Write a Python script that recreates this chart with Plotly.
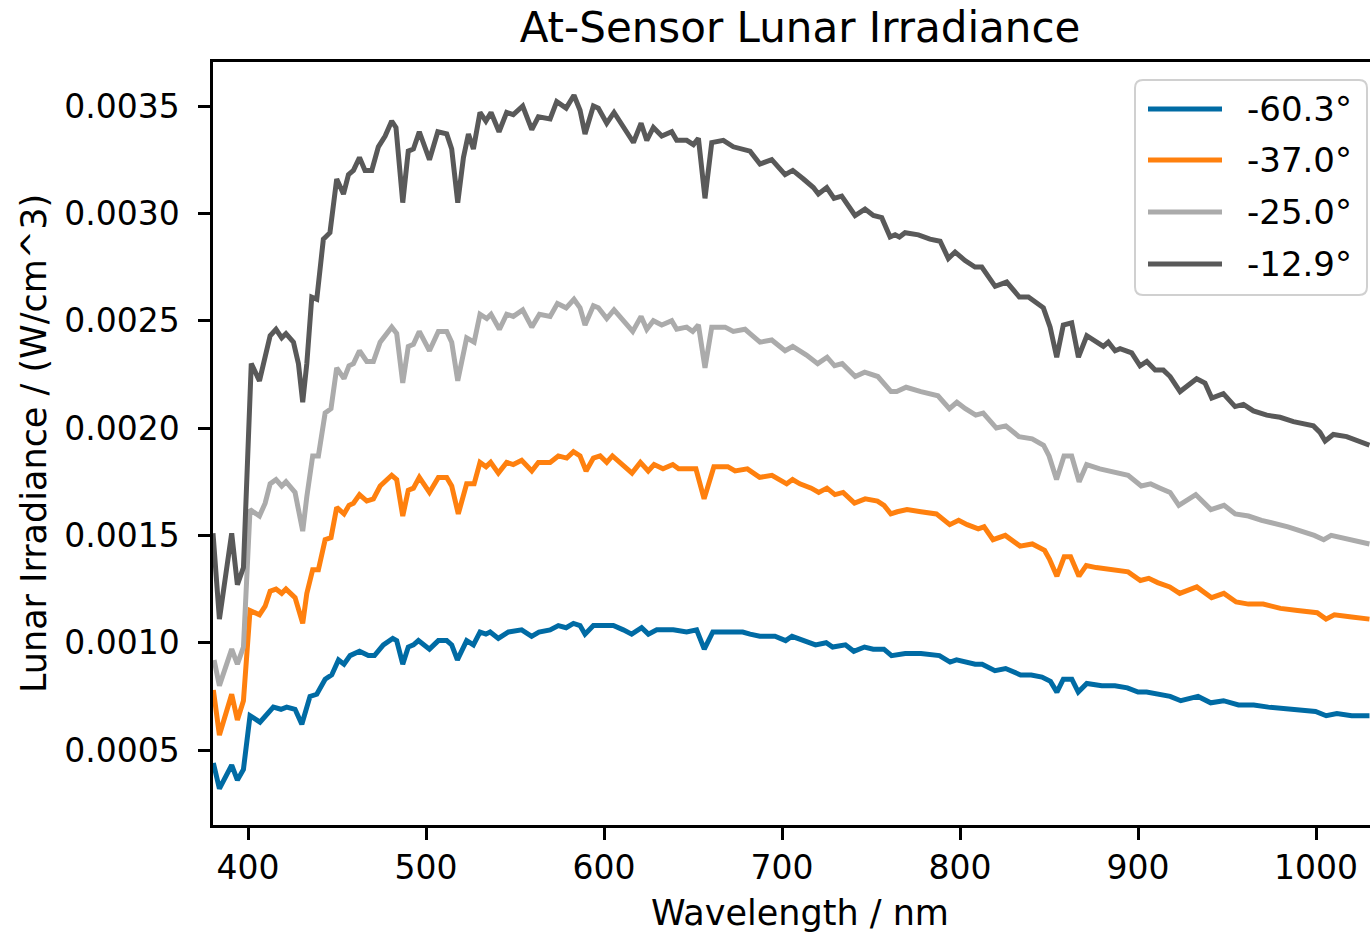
import plotly.graph_objects as go

# ---------------- data ----------------
wl_m603 = [380.5, 383.9, 390.8, 394.0, 397.4, 401.1, 406.7, 409.6, 414.2, 418.5, 421.7, 426.4, 430.2, 434.8, 438.6,
           443.3, 447.0, 450.8, 453.9, 457.3, 462.6, 467.6, 471.0, 476.0, 481.3, 483.5, 486.9, 490.0, 492.9, 495.7,
           501.9, 506.9, 511.6, 514.4, 517.6, 522.8, 526.6, 530.3, 533.6, 536.0, 540.6, 546.3, 553.7, 559.3, 563.4,
           569.7, 574.3, 578.7, 582.8, 586.5, 589.3, 594.0, 600.0, 605.2, 610.8, 615.5, 621.1, 624.9, 629.6, 638.9,
           646.4, 652.0, 656.3, 661.1, 668.3, 677.9, 682.0, 687.5, 696.0, 702.0, 705.6, 712.0, 718.8, 724.8, 728.4,
           735.6, 740.3, 746.3, 751.2, 757.2, 761.5, 769.2, 778.0, 788.4, 794.4, 798.0, 803.0, 808.5, 812.4, 819.6,
           825.6, 834.0, 840.0, 846.0, 850.8, 854.4, 858.0, 862.8, 866.4, 871.2, 879.6, 887.0, 894.0, 900.0, 904.8,
           913.2, 918.0, 924.0, 933.7, 940.8, 948.0, 956.4, 965.0, 973.2, 990.0, 999.7, 1005.7, 1011.7, 1020.0, 1030.0]
irr_m603 = [0.00044, 0.00032, 0.00043, 0.00036, 0.00041, 0.00066, 0.00063, 0.00066, 0.00070, 0.00069, 0.00070, 0.00069, 0.00062, 0.00075, 0.00076,
            0.00083, 0.00085, 0.00092, 0.00090, 0.00094, 0.00096, 0.00094, 0.00094, 0.00099, 0.00102, 0.00101, 0.00090, 0.00098, 0.00099, 0.00101,
            0.00097, 0.00101, 0.00101, 0.00099, 0.00092, 0.00101, 0.00099, 0.00105, 0.00104, 0.00105, 0.00102, 0.00105, 0.00106, 0.00103, 0.00105,
            0.00106, 0.00108, 0.00107, 0.00109, 0.00108, 0.00104, 0.00108, 0.00108, 0.00108, 0.00106, 0.00104, 0.00107, 0.00104, 0.00106, 0.00106,
            0.00105, 0.00106, 0.00097, 0.00105, 0.00105, 0.00105, 0.00104, 0.00103, 0.00103, 0.00101, 0.00103, 0.00101, 0.00099, 0.00100, 0.00098,
            0.00099, 0.00096, 0.00098, 0.00097, 0.00097, 0.00094, 0.00095, 0.00095, 0.00094, 0.00091, 0.00092, 0.00091, 0.00090, 0.00090, 0.00087,
            0.00088, 0.00085, 0.00085, 0.00084, 0.00082, 0.00077, 0.00083, 0.00083, 0.00077, 0.00081, 0.00080, 0.00080, 0.00079, 0.00077, 0.00077,
            0.00076, 0.00075, 0.00073, 0.00075, 0.00072, 0.00073, 0.00071, 0.00071, 0.00070, 0.00069, 0.00068, 0.00066, 0.00067, 0.00066, 0.00066]

wl_m370 = [380.5, 383.9, 390.8, 394.0, 397.4, 401.1, 406.4, 409.6, 412.4, 415.7, 418.9, 421.3, 426.4, 430.7, 433.0,
           436.3, 439.5, 443.3, 446.6, 449.8, 453.9, 456.7, 459.2, 462.6, 466.7, 470.4, 474.2, 477.0, 480.7, 483.5,
           486.9, 490.0, 492.9, 496.2, 501.9, 506.9, 511.6, 514.4, 518.1, 522.8, 527.0, 530.3, 533.7, 536.3, 540.6,
           545.3, 549.0, 553.7, 559.4, 563.1, 569.7, 574.3, 579.0, 582.8, 586.5, 589.9, 594.0, 597.8, 601.5, 604.7,
           610.0, 615.7, 620.4, 624.8, 628.1, 633.1, 638.6, 641.9, 646.4, 651.6, 656.2, 661.7, 669.5, 673.6, 680.5,
           687.4, 694.3, 702.6, 705.9, 710.0, 716.4, 720.6, 725.2, 729.7, 734.3, 740.7, 746.7, 753.6, 757.3, 761.1,
           764.7, 770.2, 778.0, 786.7, 794.2, 799.2, 804.0, 810.2, 813.5, 818.5, 825.4, 833.7, 840.6, 847.5, 850.2,
           854.4, 858.5, 862.1, 866.8, 870.9, 876.5, 887.5, 894.4, 901.3, 906.0, 911.0, 917.8, 923.4, 933.0, 941.3,
           948.2, 955.1, 962.0, 970.3, 980.0, 989.6, 1000.6, 1005.6, 1010.3, 1020.0, 1030.0]
irr_m370 = [0.00078, 0.00057, 0.00076, 0.00064, 0.00073, 0.00115, 0.00113, 0.00117, 0.00124, 0.00125, 0.00123, 0.00125, 0.00121, 0.00109, 0.00123,
            0.00134, 0.00134, 0.00148, 0.00149, 0.00163, 0.00160, 0.00164, 0.00165, 0.00169, 0.00166, 0.00167, 0.00173, 0.00175, 0.00178, 0.00176,
            0.00159, 0.00171, 0.00172, 0.00177, 0.00170, 0.00177, 0.00177, 0.00173, 0.00160, 0.00174, 0.00174, 0.00184, 0.00182, 0.00184, 0.00179,
            0.00184, 0.00183, 0.00185, 0.00180, 0.00184, 0.00184, 0.00187, 0.00186, 0.00189, 0.00187, 0.00180, 0.00186, 0.00187, 0.00184, 0.00187,
            0.00183, 0.00179, 0.00184, 0.00180, 0.00183, 0.00181, 0.00183, 0.00181, 0.00181, 0.00181, 0.00167, 0.00182, 0.00182, 0.00180, 0.00181,
            0.00177, 0.00178, 0.00174, 0.00176, 0.00174, 0.00172, 0.00170, 0.00172, 0.00169, 0.00170, 0.00165, 0.00167, 0.00166, 0.00164, 0.00160,
            0.00161, 0.00162, 0.00161, 0.00160, 0.00155, 0.00157, 0.00155, 0.00153, 0.00154, 0.00148, 0.00150, 0.00145, 0.00146, 0.00143, 0.00139,
            0.00131, 0.00140, 0.00140, 0.00131, 0.00136, 0.00135, 0.00134, 0.00133, 0.00129, 0.00130, 0.00128, 0.00126, 0.00123, 0.00126, 0.00121,
            0.00123, 0.00119, 0.00118, 0.00118, 0.00116, 0.00115, 0.00114, 0.00111, 0.00113, 0.00112, 0.00111]

wl_m250 = [380.9, 383.9, 390.8, 394.0, 397.4, 401.1, 406.4, 409.6, 412.4, 415.7, 418.9, 421.3, 426.4, 430.7, 433.0,
           436.3, 439.5, 443.3, 446.6, 449.8, 453.9, 456.7, 459.2, 462.6, 466.7, 470.4, 474.2, 477.0, 480.7, 483.5,
           486.9, 490.0, 492.9, 496.2, 501.9, 506.9, 511.6, 514.4, 517.8, 522.8, 527.0, 530.3, 534.1, 536.5, 541.2,
           545.3, 549.0, 554.3, 559.4, 563.7, 569.7, 573.8, 578.7, 583.1, 586.5, 589.3, 594.0, 596.8, 601.5, 605.6,
           610.8, 616.1, 620.8, 624.0, 627.7, 632.4, 638.0, 640.8, 646.4, 649.8, 653.0, 656.7, 660.5, 668.0, 672.6,
           679.2, 682.0, 687.6, 694.2, 701.7, 706.0, 713.7, 720.0, 725.3, 729.5, 733.8, 741.1, 746.4, 753.8, 757.0,
           761.2, 764.4, 769.7, 778.0, 787.6, 794.0, 798.2, 803.0, 808.8, 813.0, 820.4, 825.7, 833.1, 840.5, 846.9,
           850.0, 854.2, 858.4, 862.7, 866.9, 871.1, 878.5, 884.9, 894.4, 901.8, 907.1, 912.4, 918.0, 922.9, 932.4,
           940.9, 948.3, 954.6, 962.0, 969.4, 984.2, 999.0, 1004.3, 1008.5, 1018.0, 1030.0]
irr_m250 = [0.00092, 0.00080, 0.00097, 0.00090, 0.00098, 0.00162, 0.00159, 0.00165, 0.00174, 0.00176, 0.00173, 0.00175, 0.00170, 0.00152, 0.00168,
            0.00187, 0.00187, 0.00207, 0.00209, 0.00228, 0.00223, 0.00229, 0.00230, 0.00236, 0.00231, 0.00231, 0.00240, 0.00243, 0.00247, 0.00244,
            0.00221, 0.00238, 0.00239, 0.00245, 0.00236, 0.00245, 0.00245, 0.00240, 0.00222, 0.00242, 0.00240, 0.00253, 0.00251, 0.00253, 0.00246,
            0.00253, 0.00252, 0.00255, 0.00247, 0.00253, 0.00252, 0.00258, 0.00256, 0.00260, 0.00256, 0.00248, 0.00257, 0.00256, 0.00251, 0.00255,
            0.00250, 0.00245, 0.00252, 0.00246, 0.00250, 0.00248, 0.00250, 0.00246, 0.00247, 0.00245, 0.00248, 0.00228, 0.00247, 0.00247, 0.00245,
            0.00246, 0.00244, 0.00240, 0.00241, 0.00236, 0.00238, 0.00234, 0.00230, 0.00233, 0.00229, 0.00230, 0.00224, 0.00226, 0.00224, 0.00221,
            0.00217, 0.00217, 0.00219, 0.00217, 0.00215, 0.00209, 0.00212, 0.00209, 0.00206, 0.00207, 0.00200, 0.00201, 0.00196, 0.00195, 0.00192,
            0.00187, 0.00176, 0.00187, 0.00187, 0.00175, 0.00183, 0.00181, 0.00180, 0.00178, 0.00173, 0.00174, 0.00172, 0.00170, 0.00164, 0.00169,
            0.00162, 0.00164, 0.00160, 0.00159, 0.00157, 0.00154, 0.00150, 0.00148, 0.00150, 0.00148, 0.00146]

wl_m129 = [380.3, 383.9, 390.8, 394.0, 397.4, 401.8, 406.4, 409.6, 412.4, 415.7, 418.9, 421.3, 425.5, 428.3, 430.7,
           433.0, 435.8, 438.6, 442.3, 446.0, 449.8, 453.6, 456.4, 459.2, 462.6, 465.7, 469.5, 473.2, 477.0, 480.7,
           483.1, 486.9, 490.0, 492.9, 496.2, 501.9, 506.6, 511.6, 514.4, 517.8, 521.0, 523.8, 526.6, 530.3, 533.6,
           536.5, 541.0, 545.3, 549.0, 554.3, 559.4, 563.1, 569.7, 573.4, 578.7, 583.1, 586.5, 589.3, 594.0, 596.8,
           601.5, 605.6, 610.8, 616.5, 620.8, 624.0, 627.7, 632.4, 638.0, 640.8, 646.4, 650.2, 653.0, 656.7, 660.5,
           667.0, 672.6, 679.2, 682.0, 687.6, 694.2, 701.7, 706.0, 712.0, 717.6, 720.4, 725.1, 729.2, 733.5, 741.0,
           746.6, 751.3, 756.0, 760.7, 763.5, 765.9, 769.1, 776.6, 783.1, 788.8, 793.4, 797.2, 802.8, 808.4, 812.2,
           819.7, 826.2, 833.3, 838.4, 846.8, 850.6, 854.3, 858.0, 862.7, 866.5, 871.2, 876.8, 880.5, 883.3, 887.1,
           889.9, 896.4, 901.1, 904.9, 909.6, 914.2, 918.0, 923.6, 932.9, 937.6, 941.4, 947.9, 954.5, 959.2, 964.8,
           972.3, 979.8, 987.3, 998.5, 1002.2, 1005.1, 1009.7, 1017.2, 1022.9, 1030.0]
irr_m129 = [0.00151, 0.00111, 0.00151, 0.00127, 0.00135, 0.00230, 0.00222, 0.00232, 0.00243, 0.00246, 0.00242, 0.00244, 0.00240, 0.00230, 0.00212,
            0.00230, 0.00261, 0.00260, 0.00288, 0.00291, 0.00316, 0.00309, 0.00318, 0.00320, 0.00326, 0.00320, 0.00320, 0.00331, 0.00336, 0.00343,
            0.00340, 0.00305, 0.00329, 0.00330, 0.00338, 0.00325, 0.00338, 0.00337, 0.00330, 0.00305, 0.00326, 0.00337, 0.00330, 0.00347, 0.00343,
            0.00347, 0.00338, 0.00347, 0.00346, 0.00350, 0.00339, 0.00345, 0.00344, 0.00352, 0.00349, 0.00355, 0.00348, 0.00337, 0.00350, 0.00349,
            0.00342, 0.00347, 0.00340, 0.00333, 0.00342, 0.00334, 0.00340, 0.00336, 0.00338, 0.00334, 0.00334, 0.00332, 0.00335, 0.00307, 0.00333,
            0.00334, 0.00331, 0.00330, 0.00329, 0.00323, 0.00325, 0.00318, 0.00320, 0.00316, 0.00312, 0.00309, 0.00312, 0.00307, 0.00308, 0.00299,
            0.00302, 0.00299, 0.00298, 0.00289, 0.00290, 0.00289, 0.00291, 0.00290, 0.00288, 0.00287, 0.00279, 0.00282, 0.00278, 0.00275, 0.00275,
            0.00266, 0.00268, 0.00261, 0.00261, 0.00256, 0.00247, 0.00233, 0.00248, 0.00249, 0.00233, 0.00243, 0.00240, 0.00238, 0.00240, 0.00236,
            0.00237, 0.00235, 0.00229, 0.00231, 0.00227, 0.00227, 0.00224, 0.00217, 0.00223, 0.00221, 0.00214, 0.00216, 0.00210, 0.00211, 0.00208,
            0.00206, 0.00205, 0.00203, 0.00201, 0.00198, 0.00194, 0.00197, 0.00196, 0.00194, 0.00192]

series_names = ["-60.3°", "-37.0°", "-25.0°", "-12.9°"]
series_colors = ["#006BA4", "#FF800E", "#ABABAB", "#595959"]
x_ticks = [400, 500, 600, 700, 800, 900, 1000]
y_ticks = [0.0005, 0.0010, 0.0015, 0.0020, 0.0025, 0.0030, 0.0035]
x_label = "Wavelength / nm"
y_label = "Lunar Irradiance / (W/cm^3)"
title_text = "At-Sensor Lunar Irradiance"

# ---------------- figure ----------------
FONT = "DejaVu Sans"
W, H = 1370, 934
ML, MR, MT, MB = 213, 0, 62, 109
PW, PH = W - ML - MR, H - MT - MB

fig = go.Figure()
all_x = [wl_m603, wl_m370, wl_m250, wl_m129]
all_y = [irr_m603, irr_m370, irr_m250, irr_m129]
for xs, ys, nm, col in zip(all_x, all_y, series_names, series_colors):
    fig.add_trace(go.Scatter(x=xs, y=ys, mode="lines", name=nm,
                             line=dict(color=col, width=5), showlegend=False))

def px_x(p):
    return (p - ML) / PW

def px_y(p):
    return (H - MB - p) / PH

# manual legend (matplotlib style)
bx0, bx1, by0, by1 = px_x(1135), px_x(1367), px_y(295), px_y(80)
rx, ry = 8 / PW, 8 / PH
path = (f"M{bx0+rx},{by1} L{bx1-rx},{by1} Q{bx1},{by1} {bx1},{by1-ry} "
        f"L{bx1},{by0+ry} Q{bx1},{by0} {bx1-rx},{by0} L{bx0+rx},{by0} "
        f"Q{bx0},{by0} {bx0},{by0+ry} L{bx0},{by1-ry} Q{bx0},{by1} {bx0+rx},{by1} Z")
shapes = [dict(type="path", path=path, xref="paper", yref="paper",
               line=dict(color="#d0d0d0", width=2), fillcolor="rgba(255,255,255,0.8)", layer="above")]
annotations = []
row_y = [109, 160, 212, 264]
for ry_px, nm, col in zip(row_y, series_names, series_colors):
    shapes.append(dict(type="line", xref="paper", yref="paper",
                       x0=px_x(1148), x1=px_x(1222), y0=px_y(ry_px), y1=px_y(ry_px),
                       line=dict(color=col, width=5), layer="above"))
    annotations.append(dict(text=nm, xref="paper", yref="paper", x=px_x(1245), y=px_y(ry_px),
                            xanchor="left", yanchor="middle", showarrow=False,
                            font=dict(family=FONT, size=34, color="black")))

# x-axis title (centred as in the reference, whose axes box extends past the crop)
annotations.append(dict(text=x_label, xref="paper", yref="paper", x=px_x(800), y=px_y(913),
                        xanchor="center", yanchor="middle", showarrow=False,
                        font=dict(family=FONT, size=35, color="black")))

fig.update_layout(
    width=W, height=H,
    margin=dict(l=ML, r=MR, t=MT, b=MB, autoexpand=False),
    paper_bgcolor="white", plot_bgcolor="white",
    font=dict(family=FONT, size=33, color="black"),
    title=dict(text=title_text, x=800 / W, xanchor="center",
               y=1 - 27 / H, yanchor="middle", yref="container",
               font=dict(family=FONT, size=42, color="black")),
    shapes=shapes, annotations=annotations,
    showlegend=False,
)
fig.update_xaxes(range=[380.3, 1030.3], tickvals=x_ticks, ticktext=[str(v) for v in x_ticks],
                 showgrid=False, zeroline=False, showline=True, linecolor="black", linewidth=2.5,
                 mirror=True, ticks="outside", ticklen=12, tickwidth=2.5, tickcolor="black",
                 ticklabelstandoff=0,
                 tickfont=dict(family=FONT, size=33, color="black"))
fig.update_yaxes(range=[0.000151, 0.003705], tickvals=y_ticks, ticktext=[f"{v:.4f}" for v in y_ticks],
                 showgrid=False, zeroline=False, showline=True, linecolor="black", linewidth=2.5,
                 mirror=False, ticks="outside", ticklen=12, tickwidth=2.5, tickcolor="black",
                 ticklabelstandoff=12,
                 tickfont=dict(family=FONT, size=33, color="black"),
                 title=dict(text=y_label, standoff=7,
                            font=dict(family=FONT, size=35, color="black")))

fig.write_html("out.html")
